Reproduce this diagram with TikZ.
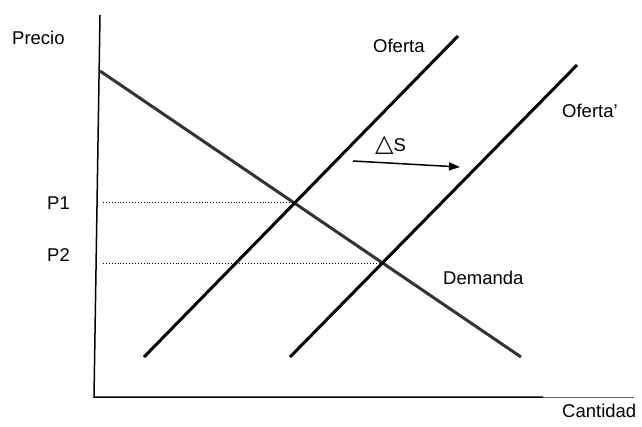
\documentclass[tikz,border=0pt]{standalone}
\usepackage{fontspec}
\setmainfont{Liberation Sans}
\newfontfamily\symfont{DejaVu Sans}
\usetikzlibrary{arrows.meta}
\begin{document}
\begin{tikzpicture}[x=1pt,y=-1pt,
  curve/.style={line width=3pt},
  axisline/.style={line width=1.5pt},
  guide/.style={dotted,line width=0.9pt},
  lbl/.style={font=\fontsize{18.5}{20}\selectfont,inner sep=0pt,anchor=base west}]
\useasboundingbox (0,0) rectangle (642,426);
% coordinates
\coordinate (ytop) at (100,15);
\coordinate (orig) at (94,397);
\coordinate (xmid) at (543,397);
\coordinate (xend) at (634,397);
\coordinate (d1) at (100,71);
\coordinate (d2) at (521,357);
\coordinate (s1a) at (144,357);
\coordinate (s1b) at (458,36);
\coordinate (s2a) at (290,357);
\coordinate (s2b) at (577,65);
\coordinate (p1a) at (103,202);
\coordinate (p1b) at (294,202);
\coordinate (p2a) at (103,263);
\coordinate (p2b) at (382,263);
\coordinate (ara) at (353,161);
\coordinate (arb) at (460,167);
% axes
\draw[axisline] (ytop) -- (orig) -- (xmid);
\draw[line width=0.7pt,black!60] (xmid) -- (xend);
% curves
\draw[curve,black!80] (d1) -- (d2);
\draw[curve] (s1a) -- (s1b);
\draw[curve] (s2a) -- (s2b);
% guides
\draw[guide] (p1a) -- (p1b);
\draw[guide] (p2a) -- (p2b);
% shift arrow
\draw[line width=1.5pt,-{Triangle[length=11pt,width=8pt]}] (ara) -- (arb);
% labels
\node[lbl] (precio) at (12,44) {Precio};
\node[lbl] (oferta) at (373,52) {Oferta};
\node[lbl] (ofertap) at (562,117) {Oferta’};
\node[lbl] (demanda) at (443,284) {Demanda};
\node[lbl] (cantidad) at (562,417) {Cantidad};
\node[lbl] (p1) at (47,209) {P1};
\node[lbl] (p2) at (47,261) {P2};
\node[lbl] (ds) at (375,151) {{\symfont\fontsize{24}{24}\selectfont △}S};
\end{tikzpicture}
\end{document}
